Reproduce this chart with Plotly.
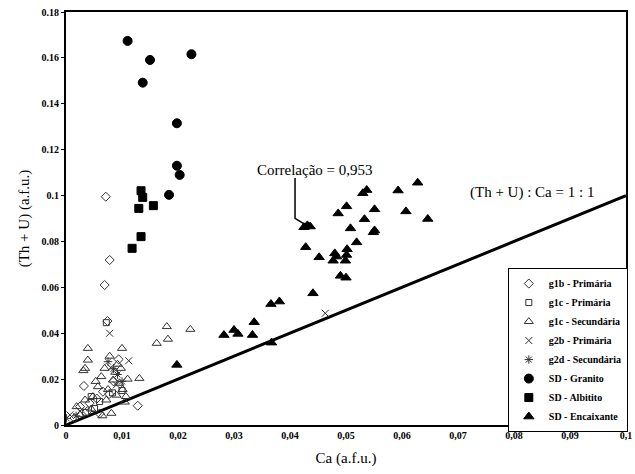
import plotly.graph_objects as go

# ---- data ----
g1b_x = [0.0071, 0.0078, 0.0069, 0.0074, 0.0094, 0.0032, 0.0077, 0.0066, 0.0128, 0.0042, 0.0025, 0.0055, 0.0085, 0.0060, 0.0038, 0.0015]
g1b_y = [0.0995, 0.0719, 0.0610, 0.0453, 0.0286, 0.0170, 0.0135, 0.0145, 0.0084, 0.0095, 0.0080, 0.0115, 0.0190, 0.0050, 0.0060, 0.0030]

g1c_p_x = [0.0072, 0.0045, 0.0051, 0.0060, 0.0083, 0.0035, 0.0100]
g1c_p_y = [0.0446, 0.0124, 0.0072, 0.0102, 0.0140, 0.0055, 0.0150]

g1c_s_x = [0.0039, 0.0100, 0.0039, 0.0034, 0.0031, 0.0180, 0.0222, 0.0162, 0.0182, 0.0131, 0.0081, 0.0098,
           0.0069, 0.0063, 0.0084, 0.0095, 0.0057, 0.0075, 0.0101, 0.0048, 0.0034, 0.0072, 0.0019, 0.0107,
           0.0088, 0.0078, 0.0092, 0.0053, 0.0110, 0.0045, 0.0025, 0.0065, 0.0105, 0.0090]
g1c_s_y = [0.0334, 0.0334, 0.0283, 0.0247, 0.0237, 0.0429, 0.0417, 0.0356, 0.0374, 0.0203, 0.0051, 0.0247,
           0.0247, 0.0211, 0.0196, 0.0182, 0.0167, 0.0155, 0.0155, 0.0124, 0.0109, 0.0109, 0.0080, 0.0124,
           0.0230, 0.0300, 0.0265, 0.0190, 0.0200, 0.0070, 0.0045, 0.0040, 0.0100, 0.0130]

g2b_x = [0.0078, 0.0112, 0.0007, 0.0463, 0.0025, 0.0090, 0.0080]
g2b_y = [0.0400, 0.0280, 0.0044, 0.0487, 0.0060, 0.0175, 0.0250]

g2d_x = [0.0075, 0.0001, 0.0085, 0.0092, 0.0018, 0.0100]
g2d_y = [0.0276, 0.0029, 0.0245, 0.0220, 0.0040, 0.0190]

granito_x = [0.0110, 0.0150, 0.0224, 0.0137, 0.0198, 0.0198, 0.0203, 0.0184]
granito_y = [0.1674, 0.1591, 0.1616, 0.1492, 0.1315, 0.1130, 0.1090, 0.1003]

albitito_x = [0.0134, 0.0137, 0.0130, 0.0156, 0.0134, 0.0118]
albitito_y = [0.1021, 0.0992, 0.0944, 0.0956, 0.0821, 0.0770]

encaix_x = [0.0431, 0.0436, 0.0425, 0.0428, 0.0452, 0.0486, 0.0501, 0.0537, 0.0530, 0.0593, 0.0628, 0.0551,
            0.0533, 0.0607, 0.0646, 0.0508, 0.0549, 0.0551, 0.0519, 0.0480, 0.0483, 0.0477, 0.0502, 0.0501,
            0.0499, 0.0490, 0.0500, 0.0441, 0.0366, 0.0381, 0.0336, 0.0282, 0.0300, 0.0307, 0.0333, 0.0367, 0.0198]
encaix_y = [0.0870, 0.0865, 0.0862, 0.0775, 0.0731, 0.0922, 0.0953, 0.1024, 0.1010, 0.1022, 0.1056, 0.0940,
            0.0897, 0.0931, 0.0898, 0.0857, 0.0840, 0.0848, 0.0796, 0.0748, 0.0734, 0.0716, 0.0766, 0.0741,
            0.0716, 0.0650, 0.0642, 0.0574, 0.0527, 0.0538, 0.0448, 0.0392, 0.0414, 0.0397, 0.0392, 0.0359, 0.0262]

ratio_line_x = [0, 0.1]
ratio_line_y = [0, 0.1]

x_tickvals = [0, 0.01, 0.02, 0.03, 0.04, 0.05, 0.06, 0.07, 0.08, 0.09, 0.1]
x_ticktext = ["0", "0,01", "0,02", "0,03", "0,04", "0,05", "0,06", "0,07", "0,08", "0,09", "0,1"]
y_tickvals = [0, 0.02, 0.04, 0.06, 0.08, 0.1, 0.12, 0.14, 0.16, 0.18]
y_ticktext = ["0", "0.02", "0.04", "0.06", "0.08", "0.1", "0.12", "0.14", "0.16", "0.18"]

FONT = "Liberation Serif"

fig = go.Figure()
fig.add_trace(go.Scatter(x=ratio_line_x, y=ratio_line_y, mode="lines",
                         line=dict(color="black", width=3), showlegend=False, hoverinfo="skip"))

series = [
    ("g1b - Primária", g1b_x, g1b_y, "diamond-open", 7, "#333"),
    ("g1c - Primária", g1c_p_x, g1c_p_y, "square-open", 6, "#333"),
    ("g1c - Secundária", g1c_s_x, g1c_s_y, "triangle-up-open", 8, "#333"),
    ("g2b - Primária", g2b_x, g2b_y, "x-thin-open", 7, "#333"),
    ("g2d - Secundária", g2d_x, g2d_y, "asterisk-open", 7, "#333"),
    ("SD - Granito", granito_x, granito_y, "circle", 9, "black"),
    ("SD - Albitito", albitito_x, albitito_y, "square", 8, "black"),
    ("SD - Encaixante", encaix_x, encaix_y, "triangle-up", 9, "black"),
]
for name, xs, ys, sym, size, col in series:
    fig.add_trace(go.Scatter(
        x=xs, y=ys, mode="markers", name=name,
        marker=dict(symbol=sym, size=size, color=col, line=dict(color=col, width=1)),
    ))

# arrow from annotation to the point
fig.add_shape(type="path", path="M 0.0409,0.1077 L 0.0409,0.0901 L 0.0428,0.0872",
              line=dict(color="black", width=1.5), xref="x", yref="y")

fig.add_annotation(x=0.0444, y=0.1112, text="Correlação = 0,953", showarrow=False,
                   font=dict(family=FONT, size=15, color="black"), xref="x", yref="y")
fig.add_annotation(x=0.0717, y=0.1015, text="(Th + U) : Ca = 1 : 1", showarrow=False,
                   xanchor="left", font=dict(family=FONT, size=15, color="black"), xref="x", yref="y")

fig.update_layout(
    width=635, height=474,
    margin=dict(l=66, r=3, t=12, b=49),
    paper_bgcolor="white", plot_bgcolor="white",
    font=dict(family=FONT, color="black"),
    showlegend=True,
    legend=dict(x=0.789, y=0.38, xanchor="left", yanchor="top",
                bgcolor="white", bordercolor="black", borderwidth=1,
                font=dict(family=FONT, size=10, color="black", weight="bold"),
                itemwidth=30, tracegroupgap=0),
    xaxis=dict(range=[0, 0.1], tickvals=x_tickvals, ticktext=x_ticktext,
               showgrid=False, zeroline=False, showline=True, linecolor="black", linewidth=2,
               mirror=True, ticks="", ticklabeloverflow="allow",
               tickfont=dict(family=FONT, size=10, color="black", weight="bold"),
               title=dict(text="Ca (a.f.u.)", font=dict(family=FONT, size=15, color="black"), standoff=12)),
    yaxis=dict(range=[0, 0.18], tickvals=y_tickvals, ticktext=y_ticktext,
               showgrid=False, zeroline=False, showline=True, linecolor="black", linewidth=2,
               mirror=True, ticks="outside", ticklen=3, tickcolor="black",
               tickfont=dict(family=FONT, size=10, color="black", weight="bold"),
               title=dict(text="(Th + U) (a.f.u.)", font=dict(family=FONT, size=15, color="black"), standoff=8)),
)

fig.write_html("out.html")
